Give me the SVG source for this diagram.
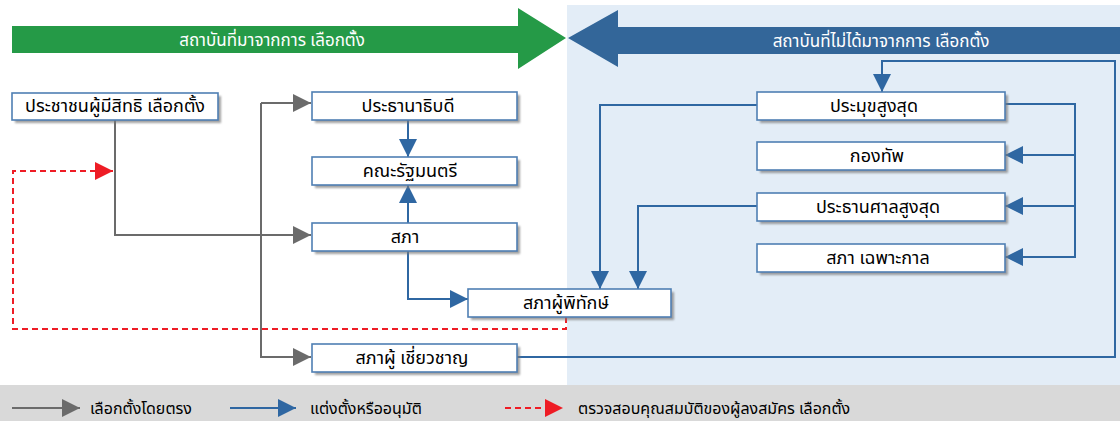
<svg xmlns="http://www.w3.org/2000/svg" width="1120" height="421" viewBox="0 0 1120 421">
<style>
text{font-family:"Noto Sans Thai","Noto Sans","DejaVu Sans","Liberation Sans",sans-serif;font-size:16px;fill:#000}
.node rect{fill:#fff;stroke:#4f7fb3;stroke-width:1.6}
.node rect.shadow{fill:#7a7a7a;stroke:none;opacity:0.7}
.gray{fill:none;stroke:#6b6b6b;stroke-width:2}
.blue{fill:none;stroke:#2f67a2;stroke-width:2}
.red{fill:none;stroke:#ee1c25;stroke-width:2;stroke-dasharray:6,4}
.lbl{text-anchor:middle;font-size:18px}
.banner{fill:#fff;text-anchor:middle;font-size:17px}
</style>
<defs>
<marker id="ag" viewBox="0 0 10 10" refX="10" refY="5" markerWidth="18" markerHeight="20" markerUnits="userSpaceOnUse" orient="auto"><path d="M0,0 L10,5 L0,10 z" fill="#6b6b6b"/></marker>
<marker id="ab" viewBox="0 0 10 10" refX="10" refY="5" markerWidth="18" markerHeight="20" markerUnits="userSpaceOnUse" orient="auto"><path d="M0,0 L10,5 L0,10 z" fill="#2f67a2"/></marker>
<marker id="ar" viewBox="0 0 10 10" refX="10" refY="5" markerWidth="18" markerHeight="22" markerUnits="userSpaceOnUse" orient="auto"><path d="M0,0 L10,5 L0,10 z" fill="#ee1c25"/></marker>
<filter id="sh" x="-5%" y="-20%" width="115%" height="160%"><feGaussianBlur stdDeviation="1.2"/></filter>
</defs>
<rect x="0" y="0" width="1120" height="421" fill="#fff"/>
<rect x="567" y="5" width="553" height="380" fill="#e3edf7"/>
<rect x="0" y="385" width="1120" height="36" fill="#d9d9d9"/>

<g id="banner-elected">
<path d="M12,26 L518,26 L518,8 L566,38 L518,69 L518,53 L12,53 z" fill="#259a47"/>
<text class="banner" x="272" y="46">สถาบันที่มาจากการ เลือกตั้ง</text>
</g>
<g id="banner-unelected">
<path d="M1120,27 L618,27 L618,10 L568,38 L618,67 L618,54 L1120,54 z" fill="#336699"/>
<text class="banner" x="881" y="47">สถาบันที่ไม่ได้มาจากการ เลือกตั้ง</text>
</g>

<g id="connectors">
<path class="gray" d="M115,120 L115,235 L311,235" marker-end="url(#ag)"/>
<path class="gray" d="M261,103 L261,357 L311,357" marker-end="url(#ag)"/>
<path class="gray" d="M261,103 L311,103" marker-end="url(#ag)"/>
<path class="red" d="M566,317 L566,329 L13,329 L13,171 L113,171" marker-end="url(#ar)"/>
<path class="blue" d="M408,120 L408,157" marker-end="url(#ab)"/>
<path class="blue" d="M408,223 L408,185" marker-end="url(#ab)"/>
<path class="blue" d="M408,251 L408,299 L468,299" marker-end="url(#ab)"/>
<path class="blue" d="M757,105 L600,105 L600,289" marker-end="url(#ab)"/>
<path class="blue" d="M757,206 L638,206 L638,289" marker-end="url(#ab)"/>
<path class="blue" d="M1005,104 L1075,104 L1075,257 L1005,257" marker-end="url(#ab)"/>
<path class="blue" d="M1075,155 L1005,155" marker-end="url(#ab)"/>
<path class="blue" d="M1075,206 L1005,206" marker-end="url(#ab)"/>
<path class="blue" d="M517,357 L1115,357 L1115,61 L882,61 L882,92" marker-end="url(#ab)"/>
</g>

<g id="voters" class="node"><rect class="shadow" x="15" y="96" width="206" height="27" filter="url(#sh)"/><rect x="12" y="93" width="206" height="27"/><text class="lbl" x="115" y="112">ประชาชนผู้มีสิทธิ เลือกตั้ง</text></g>
<g id="president" class="node"><rect class="shadow" x="315" y="95" width="205" height="28" filter="url(#sh)"/><rect x="312" y="92" width="205" height="28"/><text class="lbl" x="408" y="112">ประธานาธิบดี</text></g>
<g id="cabinet" class="node"><rect class="shadow" x="315" y="160" width="205" height="28" filter="url(#sh)"/><rect x="312" y="157" width="205" height="28"/><text class="lbl" x="410" y="177">คณะรัฐมนตรี</text></g>
<g id="parliament" class="node"><rect class="shadow" x="315" y="226" width="205" height="28" filter="url(#sh)"/><rect x="312" y="223" width="205" height="28"/><text class="lbl" x="405" y="243">สภา</text></g>
<g id="guardian" class="node"><rect class="shadow" x="471" y="292" width="203" height="28" filter="url(#sh)"/><rect x="468" y="289" width="203" height="28"/><text class="lbl" x="566" y="309">สภาผู้พิทักษ์</text></g>
<g id="experts" class="node"><rect class="shadow" x="315" y="347" width="205" height="28" filter="url(#sh)"/><rect x="312" y="344" width="205" height="28"/><text class="lbl" x="412" y="364">สภาผู้ เชี่ยวชาญ</text></g>
<g id="leader" class="node"><rect class="shadow" x="760" y="95" width="248" height="28" filter="url(#sh)"/><rect x="757" y="92" width="248" height="28"/><text class="lbl" x="874" y="112">ประมุขสูงสุด</text></g>
<g id="army" class="node"><rect class="shadow" x="760" y="145" width="248" height="28" filter="url(#sh)"/><rect x="757" y="142" width="248" height="28"/><text class="lbl" x="877" y="162">กองทัพ</text></g>
<g id="judiciary" class="node"><rect class="shadow" x="760" y="196" width="248" height="28" filter="url(#sh)"/><rect x="757" y="193" width="248" height="28"/><text class="lbl" x="878" y="213">ประธานศาลสูงสุด</text></g>
<g id="expediency" class="node"><rect class="shadow" x="760" y="247" width="248" height="28" filter="url(#sh)"/><rect x="757" y="244" width="248" height="28"/><text class="lbl" x="878" y="264">สภา เฉพาะกาล</text></g>

<g id="legend">
<path class="gray" d="M12,408 L80,408" marker-end="url(#ag)"/>
<text x="90" y="414">เลือกตั้งโดยตรง</text>
<path class="blue" d="M230,408 L296,408" marker-end="url(#ab)"/>
<text x="310" y="414">แต่งตั้งหรืออนุมัติ</text>
<path class="red" d="M505,408 L563,408" marker-end="url(#ar)"/>
<text x="578" y="414">ตรวจสอบคุณสมบัติของผู้ลงสมัคร เลือกตั้ง</text>
</g>
</svg>
